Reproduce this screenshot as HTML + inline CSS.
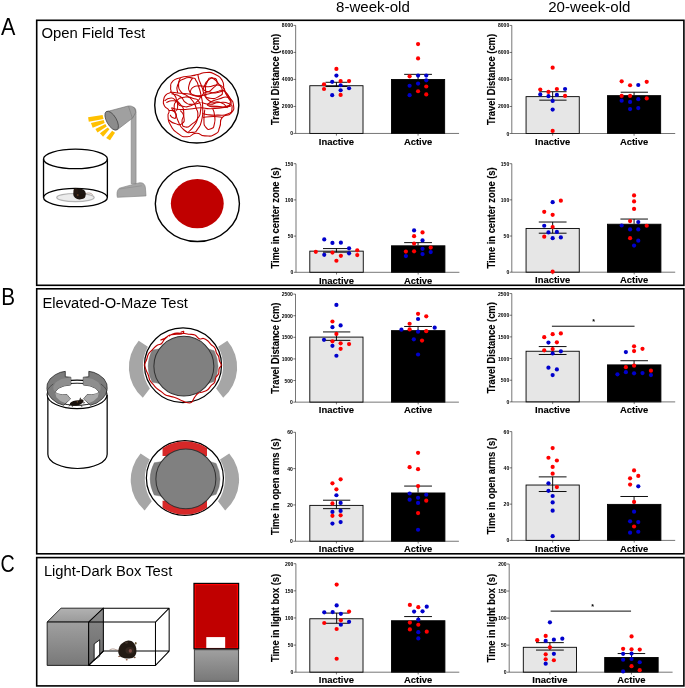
<!DOCTYPE html>
<html lang="en">
<head>
<meta charset="utf-8">
<title>Figure</title>
<style>
html,body{margin:0;padding:0;background:#fff;}
body{width:685px;height:688px;overflow:hidden;}
svg{display:block;}
text{font-family:"Liberation Sans",sans-serif;fill:#000;}
.tk{font-size:5.3px;font-weight:bold;text-anchor:end;}
.xl{font-size:9.6px;stroke:#000;stroke-width:0.12px;font-weight:bold;text-anchor:middle;}
.yl{font-size:10.35px;stroke:#000;stroke-width:0.12px;font-weight:bold;text-anchor:middle;}
.st{font-size:7px;font-weight:bold;text-anchor:middle;}
.hd{font-size:14.9px;text-anchor:middle;}
.pl{font-size:23.5px;}
.pt{font-size:15.2px;}
</style>
</head>
<body>
<svg width="685" height="688" viewBox="0 0 685 688">
<rect width="685" height="688" fill="#fff"/>

<g fill="none" stroke="#000" stroke-width="1.6">
<rect x="36.7" y="20.3" width="647.2" height="265"/>
<rect x="36.7" y="288.8" width="647.2" height="265"/>
<rect x="36.7" y="557.6" width="647.2" height="128.3"/>
</g>
<text x="372.9" y="12.4" class="hd" textLength="73.8" lengthAdjust="spacingAndGlyphs">8-week-old</text>
<text x="589.3" y="12.4" class="hd" textLength="82.2" lengthAdjust="spacingAndGlyphs">20-week-old</text>
<text x="1.1" y="34.8" class="pl" textLength="14.4" lengthAdjust="spacingAndGlyphs">A</text>
<text x="1.2" y="305.3" class="pl" textLength="13.8" lengthAdjust="spacingAndGlyphs">B</text>
<text x="0.6" y="572.1" class="pl" textLength="14.2" lengthAdjust="spacingAndGlyphs">C</text>
<text x="41.4" y="38.2" class="pt" textLength="103.8" lengthAdjust="spacingAndGlyphs">Open Field Test</text>
<text x="42.4" y="307.9" class="pt" textLength="145.5" lengthAdjust="spacingAndGlyphs">Elevated-O-Maze Test</text>
<text x="43.9" y="575.6" class="pt" textLength="128.4" lengthAdjust="spacingAndGlyphs">Light-Dark Box Test</text>
<g id="arenaA" transform="translate(36 80) scale(0.20338)">
<ellipse cx="194" cy="578" rx="92" ry="20" fill="#ececec" stroke="#b3b3b3" stroke-width="6"/>
<ellipse cx="194" cy="578" rx="157" ry="45" fill="none" stroke="#000" stroke-width="6.5"/>
<ellipse cx="194" cy="388" rx="157" ry="48" fill="none" stroke="#000" stroke-width="6.5"/>
<path d="M37 388V578M351 388V578" stroke="#000" stroke-width="6.5" fill="none"/>
<g id="mouseA">
<path d="M240 560C260 552 272 556 280 566" fill="none" stroke="#8a6a5a" stroke-width="3"/>
<ellipse cx="214" cy="560" rx="31" ry="27" fill="#1e1611"/>
<ellipse cx="196" cy="546" rx="12" ry="14" fill="#261a13"/>
<ellipse cx="228" cy="572" rx="14" ry="12" fill="#1d130d"/>
<circle cx="205" cy="566" r="5" fill="#5b3a25"/>
</g>
<g fill="#ffc000" transform="scale(4.917) translate(-36 -80) translate(84 100) scale(0.09635)">
<polygon points="42,180 193,155 203,197 50,226"/>
<polygon points="72,240 205,208 214,238 90,288"/>
<polygon points="118,300 222,250 236,276 140,338"/>
<polygon points="165,345 246,286 264,304 198,382"/>
<polygon points="230,395 292,318 322,340 270,418"/>
</g>
<path d="M468 510V170C468 140 470 132 480 134C492 138 492 150 492 175V510Z" fill="#a6a6a6" stroke="#7f7f7f" stroke-width="3"/>
<path d="M400 577C396 560 398 540 410 532L505 506C525 502 536 512 538 530L541 570Z" fill="#a6a6a6" stroke="#7f7f7f" stroke-width="3"/>
<path d="M410 536L520 520" stroke="#8c8c8c" stroke-width="3" fill="none"/>
<path d="M346 156L452 128C476 124 490 140 490 160L476 186L398 246Z" fill="#a0a0a0" stroke="#6e6e6e" stroke-width="3"/>
<path d="M455 130C462 150 468 170 474 188" stroke="#7a7a7a" stroke-width="3" fill="none"/>
<ellipse cx="372" cy="200" rx="52" ry="24" transform="rotate(60 372 200)" fill="#8c8c8c" stroke="#404040" stroke-width="3.5"/>
</g>
<g id="trackA" transform="translate(140 50) scale(0.17518)">
<ellipse cx="324" cy="315" rx="240" ry="216" fill="#fff" stroke="#000" stroke-width="8"/>
<path d="M175 215C178.3 195 166.7 199 185 180C203.3 161 195 168.7 230 158C265 147.3 256.7 154 290 148C323.3 142 300 146.7 330 140C360 133.3 346.7 128 380 128C413.3 128 400 124.3 430 140C460 155.7 452.7 145 470 175C487.3 205 468.7 198.3 482 230C495.3 261.7 493 243.3 510 270C527 296.7 529.7 280 533 310C536.3 340 541 335 520 360C499 385 491.7 358.3 470 385C448.3 411.7 468.3 408.3 455 440C441.7 471.7 458.3 463.3 430 480C401.7 496.7 406.7 491.7 370 490C333.3 488.3 353.3 473.3 320 475C286.7 476.7 305 495 270 495C235 495 246.7 496.7 215 475C183.3 453.3 193.3 461.7 175 430C156.7 398.3 163.3 408.3 160 380C156.7 351.7 171.7 365 165 345C158.3 325 150 340 140 320C130 300 131.7 306.7 135 285C138.3 263.3 136.7 270 150 255C163.3 240 166.7 253.3 175 240C183.3 226.7 171.7 235 175 215Z" fill="none" stroke="#c00000" stroke-width="6.2" stroke-linejoin="round"/>
<path d="M175 240C188.3 241.7 183.3 241.7 215 245C246.7 248.3 231.7 244.3 270 250C308.3 255.7 288.3 262 330 262C371.7 262 358.3 258 395 250C431.7 242 413.3 244 440 238C466.7 232 453.3 224 475 232C496.7 240 491.7 239.3 505 262C518.3 284.7 520 279 515 300C510 321 515 317.7 490 325C465 332.3 471.7 323.7 440 322C408.3 320.3 410 320.7 395 320" fill="none" stroke="#c00000" stroke-width="6.2" stroke-linejoin="round"/>
<path d="M215 245C215 230 203.3 226.7 215 200C226.7 173.3 221.7 178.3 250 165C278.3 151.7 276.7 156.7 300 160C323.3 163.3 308.3 158.3 320 175C331.7 191.7 325 180 335 210C345 240 342.3 225 350 265C357.7 305 357.3 285 358 330C358.7 375 361.3 360 352 400C342.7 440 347.3 426.7 330 450C312.7 473.3 326.7 468.3 300 470C273.3 471.7 278.3 478.3 250 455C221.7 431.7 231.7 433.3 215 400C198.3 366.7 216.7 373.3 200 355C183.3 336.7 176.7 348.3 165 345" fill="none" stroke="#c00000" stroke-width="6.2" stroke-linejoin="round"/>
<path d="M300 160C293.3 173.3 285 173.3 280 200C275 226.7 271.7 219.3 285 240C298.3 260.7 298.3 253.7 320 262C341.7 270.3 340 264 350 265" fill="none" stroke="#c00000" stroke-width="6.2" stroke-linejoin="round"/>
<path d="M400 165C383.3 176.7 381.7 171.7 370 200C358.3 228.3 355 225 365 250C375 275 371.7 270 400 275C428.3 280 426.7 278.3 450 265C473.3 251.7 470 258.3 470 235C470 211.7 466.7 218.3 450 195C433.3 171.7 436.7 175 420 165C403.3 155 416.7 153.3 400 165Z" fill="none" stroke="#c00000" stroke-width="6.2" stroke-linejoin="round"/>
<path d="M395 320C411.7 328.3 415 325 450 325C485 325 476.7 328.3 500 320C523.3 311.7 520 316.7 520 300C520 283.3 523.3 276.7 500 270C476.7 263.3 483.3 270 450 280C416.7 290 418.3 286.7 400 300C381.7 313.3 378.3 311.7 395 320Z" fill="none" stroke="#c00000" stroke-width="6.2" stroke-linejoin="round"/>
<path d="M360 385C380 383.3 383.3 380 420 380C456.7 380 453.3 383.3 470 385" fill="none" stroke="#c00000" stroke-width="6.2" stroke-linejoin="round"/>
<path d="M370 340C368.3 360 363.3 366.7 365 400C366.7 433.3 361.7 423.3 375 440C388.3 456.7 388.3 456.7 405 450C421.7 443.3 418.3 446.7 425 420C431.7 393.3 428.3 398.3 425 370C421.7 341.7 418.3 346.7 415 335" fill="none" stroke="#c00000" stroke-width="6.2" stroke-linejoin="round"/>
<path d="M180 330C196.7 333.3 190 338.3 230 340C270 341.7 260 338.3 300 335C340 331.7 316.7 330 350 330C383.3 330 360 335 400 335C440 335 430 335 470 330C510 325 503.3 323.3 520 320" fill="none" stroke="#c00000" stroke-width="6.2" stroke-linejoin="round"/>
<path d="M150 300C163.3 296.7 163.3 286.7 190 290C216.7 293.3 210 286.7 230 310C250 333.3 246.7 326.7 250 360C253.3 393.3 236.7 383.3 240 410C243.3 436.7 240 436.7 260 440C280 443.3 276.7 436.7 300 420C323.3 403.3 315 413.3 330 390C345 366.7 341.7 380 345 350C348.3 320 355 325 340 300C325 275 330 285 300 275C270 265 280 265 250 270C220 275 228.3 270 210 290C191.7 310 196.7 300 195 330C193.3 360 208.3 361.7 205 380C201.7 398.3 196 388.3 185 385C174 381.7 176.3 375 172 370" fill="none" stroke="#c00000" stroke-width="6.2" stroke-linejoin="round"/>
<path d="M330 140C335 156.7 330 158.3 345 190C360 221.7 350 226.7 375 235C400 243.3 398.3 233.3 420 215C441.7 196.7 443.3 198.3 440 180C436.7 161.7 428.3 160 410 160C391.7 160 396.7 155 385 180C373.3 205 371.7 198.3 375 235C378.3 271.7 366.7 268.3 395 290C423.3 311.7 425 286.7 460 300C495 313.3 486.7 320 500 330" fill="none" stroke="#c00000" stroke-width="6.2" stroke-linejoin="round"/>
<path d="M180 250C196.7 255 203.3 248.3 230 265C256.7 281.7 236.7 285 260 300C283.3 315 271.7 310 300 310C328.3 310 330 303.3 345 300" fill="none" stroke="#c00000" stroke-width="6.2" stroke-linejoin="round"/>
<path d="M175 240C183.3 247.3 186.7 242 200 262C213.3 282 201.7 280.7 215 300C228.3 319.3 215 314 240 320C265 326 260 328 290 318C320 308 310 307.7 330 290C350 272.3 333.3 281.7 350 265C366.7 248.3 353.3 246.7 380 240C406.7 233.3 396.7 248.3 430 245C463.3 241.7 463.3 235 480 230" fill="none" stroke="#c00000" stroke-width="6.2" stroke-linejoin="round"/>
<path d="M140 290C150 285 150 276.7 170 275C190 273.3 185 270 200 285C215 300 215 298.3 215 320C215 341.7 211.7 346.7 200 350C188.3 353.3 186.7 336.7 180 330" fill="none" stroke="#c00000" stroke-width="6.2" stroke-linejoin="round"/>
<path d="M230 160C226.7 173.3 218.3 173.3 220 200C221.7 226.7 218.3 219.3 235 240C251.7 260.7 248.3 245.3 270 262C291.7 278.7 283.3 267.3 300 290C316.7 312.7 310 300 320 330C330 360 333.3 346.7 330 380C326.7 413.3 328.3 400 310 430C291.7 460 286.7 456.7 275 470" fill="none" stroke="#c00000" stroke-width="6.2" stroke-linejoin="round"/>
<path d="M285 250C290 238.3 281.7 230 300 215C318.3 200 310 206.7 340 205C370 203.3 356.7 211.7 390 210C423.3 208.3 411.7 198.3 440 200C468.3 201.7 458.3 198.3 475 215C491.7 231.7 476.7 225 490 250C503.3 275 506.7 276.7 515 290" fill="none" stroke="#c00000" stroke-width="6.2" stroke-linejoin="round"/>
<path d="M352 300C368 303.3 367.3 310 400 310C432.7 310 415 301.7 450 300C485 298.3 480 293.3 505 305C530 316.7 526.7 315 525 335C523.3 355 528.3 352.7 500 365C471.7 377.3 480 371 440 372C400 373 408.3 372 380 368C351.7 364 363.3 362.7 355 360" fill="none" stroke="#c00000" stroke-width="6.2" stroke-linejoin="round"/>
<path d="M165 400C176.7 406.7 175 413.3 200 420C225 426.7 223.3 433.3 240 420C256.7 406.7 253.3 405 250 380C246.7 355 236.7 356.7 230 345" fill="none" stroke="#c00000" stroke-width="6.2" stroke-linejoin="round"/>
</g>
<g id="zoneA" transform="translate(140 150) scale(0.17518)">
<ellipse cx="327.5" cy="306.5" rx="240" ry="216" fill="#fff" stroke="#000" stroke-width="8"/>
<ellipse cx="327" cy="306" rx="151" ry="141" fill="#c00000"/>
</g>
<g id="eomTrack">
<g transform="translate(120 310) scale(0.18978)">
<path d="M565.5 161.8A212.9 212.9 0 0 1 543.9 462.1L506.5 413.6A209.7 209.7 0 0 0 517 193.9Z" fill="#a6a6a6"/>
<path d="M98.5 161.8A212.9 212.9 0 0 0 120.1 462.1L157.5 413.6A209.7 209.7 0 0 1 147 193.9Z" fill="#a6a6a6"/>
<ellipse cx="332" cy="291" rx="203" ry="197" fill="#fff" stroke="#000" stroke-width="6.5"/>
<path d="M210.3 204.3L169.9 211.1A187 187 0 0 0 169.9 380.9L210.3 387.7Z" fill="#7f7f7f" stroke="#6a6a6a" stroke-width="2"/>
<path d="M462.7 204.3L496 214.7A179 179 0 0 1 496 377.3L462.7 387.7Z" fill="#7f7f7f" stroke="#6a6a6a" stroke-width="2"/>
<ellipse cx="336.5" cy="296" rx="158" ry="157.5" fill="#808080" stroke="#333" stroke-width="5.5"/>
<path d="M320 118C323 116.8 333 110.8 335 112C337 113.2 337 120.8 330 124C323 127.2 313.6 126.4 300 128C286.4 129.6 274 128 262 132C250 136 249.4 142.8 240 148C230.6 153.2 216 157.6 215 158C214 158.4 228 153.6 235 150C242 146.4 250.6 138.4 250 140C249.4 141.6 238.4 150.4 232 158C225.6 165.6 225.2 172.4 218 178C210.8 183.6 205.6 179.6 196 186C186.4 192.4 179.2 200.8 170 210C160.8 219.2 156 221.6 150 232C144 242.4 144 250.8 140 262C136 273.2 130.4 276.8 130 288C129.6 299.2 134 306.6 138 318C142 329.4 146 334.2 150 345C154 355.8 153 362.6 158 372C163 381.4 168.2 384 175 392C181.8 400 184 404.8 192 412C200 419.2 205.8 421.2 215 428C224.2 434.8 228 440.6 238 446C248 451.4 254.2 451.8 265 455C275.8 458.2 281.4 458.2 292 462C302.6 465.8 307.4 469.2 318 474C328.6 478.8 333.6 483.2 345 486C356.4 488.8 365.6 492.8 375 488C384.4 483.2 385 471.6 392 462C399 452.4 401.2 446 410 440C418.8 434 425.6 436 436 432C446.4 428 453.2 426.8 462 420C470.8 413.2 472.8 405.6 480 398C487.2 390.4 493 390.6 498 382C503 373.4 500.6 364.4 505 355C509.4 345.6 516.6 344 520 335C523.4 326 519.2 319 522 310C524.8 301 533.6 298.4 534 290C534.4 281.6 526.8 277 524 268C521.2 259 523.2 253.6 520 245C516.8 236.4 512 234 508 225C504 216 505.6 208.6 500 200C494.4 191.4 487.6 189.6 480 182C472.4 174.4 470 168.4 462 162C454 155.6 448.8 152 440 150C431.2 148 427 155.6 418 152C409 148.4 405.6 136.8 395 132C384.4 127.2 376 129.6 365 128C354 126.4 353 125.2 340 124C327 122.8 313 121.2 300 122C287 122.8 283.4 124.8 275 128C266.6 131.2 261.4 136 258 138" fill="none" stroke="#c00000" stroke-width="6" stroke-linejoin="round"/>
</g>
</g>
<g id="eomZones">
<g transform="translate(120 425) scale(0.18978)">
<path d="M575.5 149.8A212.9 212.9 0 0 1 553.9 450.1L516.5 401.6A209.7 209.7 0 0 0 527 181.9Z" fill="#a6a6a6"/>
<path d="M108.5 149.8A212.9 212.9 0 0 0 130.1 450.1L167.5 401.6A209.7 209.7 0 0 1 157 181.9Z" fill="#a6a6a6"/>
<ellipse cx="342" cy="279" rx="203" ry="197" fill="#fff" stroke="#000" stroke-width="6.5"/>
<clipPath id="clipZ"><rect x="223" y="69" width="236" height="94"/><rect x="223" y="399" width="236" height="94"/></clipPath>
<ellipse cx="342" cy="279" rx="199.5" ry="193.5" fill="#d62828" clip-path="url(#clipZ)"/>
<path d="M220.8 192.3L180.4 199.1A187 187 0 0 0 180.4 368.9L220.8 375.7Z" fill="#7f7f7f" stroke="#6a6a6a" stroke-width="2"/>
<path d="M473.2 192.3L506.5 202.7A179 179 0 0 1 506.5 365.3L473.2 375.7Z" fill="#7f7f7f" stroke="#6a6a6a" stroke-width="2"/>
<ellipse cx="347" cy="284" rx="158" ry="157.5" fill="#808080" stroke="#333" stroke-width="5.5"/>
</g>
</g>
<g id="mazeB">
<g transform="translate(36 360) scale(0.17443)">
<path d="M68 200V540A170 82 0 0 0 408 540V200" fill="#fff" stroke="#000" stroke-width="7"/>
</g>
<g transform="translate(42 365) scale(0.10219)">
<ellipse cx="343" cy="287.5" rx="293" ry="139.5" fill="#fff" stroke="#000" stroke-width="11"/>
<ellipse cx="343" cy="286.5" rx="252" ry="108.5" fill="#fff" stroke="#000" stroke-width="9"/>
<polygon points="48,232 52,185 80,135 130,95 180,72 228,62 228,115 282,120 282,195 215,205 160,228 128,265 150,282 200,292 245,290 278,332 212,394 150,372 95,330 60,285" fill="#7c7c7c" stroke="#1a1a1a" stroke-width="7" stroke-linejoin="round"/>
<polygon points="110,210 135,168 190,138 282,120 282,195 215,205 160,228 128,265 112,240" fill="#8e8e8e"/>
<polygon points="128,265 150,282 200,292 245,290 278,332 230,374 180,352 140,315" fill="#a9a9a9"/>
<polyline points="50,250 75,215 110,185" fill="none" stroke="#262626" stroke-width="5"/>
<polygon points="638,232 634,185 606,135 556,95 506,72 458,62 458,115 404,120 404,195 471,205 526,228 558,265 536,282 486,292 441,290 408,332 474,394 536,372 591,330 626,285" fill="#7c7c7c" stroke="#1a1a1a" stroke-width="7" stroke-linejoin="round"/>
<polygon points="576,210 551,168 496,138 404,120 404,195 471,205 526,228 558,265 574,240" fill="#8e8e8e"/>
<polygon points="558,265 536,282 486,292 441,290 408,332 456,374 506,352 546,315" fill="#a9a9a9"/>
<polyline points="636,250 611,215 576,185" fill="none" stroke="#262626" stroke-width="5"/>
<ellipse cx="335" cy="372" rx="64" ry="25" transform="rotate(-10 335 372)" fill="#17110d"/>
<ellipse cx="384" cy="352" rx="24" ry="18" fill="#1f1610"/>
<path d="M366 340L374 316L384 338Z" fill="#17110d"/>
<path d="M280 388L262 404M300 394L296 410M380 392L392 410M400 372L420 368" stroke="#17110d" stroke-width="7" fill="none"/>
<circle cx="345" cy="360" r="6" fill="#a06a3c"/>
</g>
</g>
<defs><linearGradient id="gd" x1="0" y1="0" x2="0" y2="1"><stop offset="0" stop-color="#a0a0a0"/><stop offset="1" stop-color="#787878"/></linearGradient>
<linearGradient id="gt" x1="0" y1="0" x2="0" y2="1"><stop offset="0" stop-color="#b2b2b2"/><stop offset="1" stop-color="#9a9a9a"/></linearGradient>
<linearGradient id="gs" x1="0" y1="0" x2="0" y2="1"><stop offset="0" stop-color="#8c8c8c"/><stop offset="1" stop-color="#6a6a6a"/></linearGradient></defs>
<g id="ldbox" transform="translate(40 600) scale(0.20437)" stroke-linejoin="round">
<polygon points="35,108 103,40 310,40 238,108" fill="url(#gt)" stroke="#000" stroke-width="4"/>
<rect x="35" y="108" width="203" height="212" fill="url(#gd)" stroke="#000" stroke-width="4"/>
<polygon points="238,108 310,40 310,250 238,320" fill="url(#gs)" stroke="#000" stroke-width="5"/>
<polygon points="265,215 292,195 292,275 265,295" fill="#fff" stroke="#000" stroke-width="4"/>
<path d="M310 40H632V250H310M238 108H565V320H238M565 108L632 40M565 320L632 250M238 320L310 250" fill="none" stroke="#000" stroke-width="5"/>
</g>
<g id="mouseC" transform="translate(105 635) scale(0.058394)">
<path d="M72 262C100 235 150 232 185 250C200 258 215 262 232 262" fill="none" stroke="#8a6858" stroke-width="11"/>
<ellipse cx="245" cy="366" rx="22" ry="12" fill="#8a5a42"/>
<ellipse cx="372" cy="424" rx="18" ry="14" fill="#8a5a42"/>
<ellipse cx="508" cy="386" rx="18" ry="12" fill="#7a5a48"/>
<path d="M228 300C222 200 290 110 400 95C470 92 520 150 535 230C548 320 520 385 440 398C360 410 240 400 228 300Z" fill="#221a13"/>
<ellipse cx="368" cy="130" rx="26" ry="20" fill="#40342a"/>
<ellipse cx="526" cy="142" rx="15" ry="24" fill="#6e5c3c"/>
<ellipse cx="425" cy="265" rx="75" ry="60" fill="#33261e"/>
<ellipse cx="434" cy="270" rx="28" ry="32" fill="#7c4c46"/>
</g>
<g id="ldtop" transform="translate(180 575) scale(0.16427)">
<rect x="87" y="455" width="270" height="192" fill="url(#gd)" stroke="#262626" stroke-width="5"/>
<rect x="85" y="51" width="272" height="398" fill="#ff0000" stroke="#000" stroke-width="7"/>
<rect x="96" y="62" width="250" height="380" fill="#c00000"/>
<rect x="160" y="378" width="115" height="66" fill="#fff"/>
</g>

<g id="c11">
<rect x="309.81" y="85.72" width="53.2" height="47.73" fill="#e6e6e6" stroke="#000" stroke-width="0.9"/>
<rect x="391.46" y="79.52" width="53.2" height="53.93" fill="#000000" stroke="#000" stroke-width="0.9"/>
<path d="M295.66 25.4V133.45H459.06" fill="none" stroke="#1a1a1a" stroke-width="0.6"/>
<path d="M293.46 133.45H295.66" stroke="#1a1a1a" stroke-width="0.6"/>
<text transform="translate(293.06 135.45) scale(0.95 1)" class="tk">0</text>
<path d="M293.46 106.44H295.66" stroke="#1a1a1a" stroke-width="0.6"/>
<text transform="translate(293.06 108.44) scale(0.95 1)" class="tk">2000</text>
<path d="M293.46 79.42H295.66" stroke="#1a1a1a" stroke-width="0.6"/>
<text transform="translate(293.06 81.42) scale(0.95 1)" class="tk">4000</text>
<path d="M293.46 52.41H295.66" stroke="#1a1a1a" stroke-width="0.6"/>
<text transform="translate(293.06 54.41) scale(0.95 1)" class="tk">6000</text>
<path d="M293.46 25.4H295.66" stroke="#1a1a1a" stroke-width="0.6"/>
<text transform="translate(293.06 27.4) scale(0.95 1)" class="tk">8000</text>
<path d="M336.41 133.45V135.65" stroke="#1a1a1a" stroke-width="0.6"/>
<text transform="translate(336.41 144.65) scale(0.985 1)" class="xl">Inactive</text>
<path d="M418.06 133.45V135.65" stroke="#1a1a1a" stroke-width="0.6"/>
<text transform="translate(418.06 144.65) scale(0.985 1)" class="xl">Active</text>
<text transform="translate(279.2 79.42) rotate(-90) scale(0.905 1)" class="yl">Travel Distance (cm)</text>
<path d="M325.49 82.29H347.58M336.41 82.29V86.51M325.49 86.51H347.58" stroke="#000" stroke-width="0.95" fill="none"/>
<path d="M404.16 74.35H431.96M418.06 74.35V79.07" stroke="#000" stroke-width="0.95" fill="none"/>
<circle cx="336.41" cy="68.89" r="2.1" fill="#ff0000"/>
<circle cx="336.41" cy="75.59" r="2.1" fill="#0000cc"/>
<circle cx="332.19" cy="81.8" r="2.1" fill="#0000cc"/>
<circle cx="340.63" cy="81.05" r="2.1" fill="#ff0000"/>
<circle cx="349.07" cy="81.05" r="2.1" fill="#ff0000"/>
<circle cx="324" cy="84.28" r="2.1" fill="#ff0000"/>
<circle cx="340.63" cy="85.27" r="2.1" fill="#0000cc"/>
<circle cx="349.07" cy="88.25" r="2.1" fill="#0000cc"/>
<circle cx="324" cy="88.99" r="2.1" fill="#ff0000"/>
<circle cx="340.63" cy="90.23" r="2.1" fill="#0000cc"/>
<circle cx="332.19" cy="95.2" r="2.1" fill="#0000cc"/>
<circle cx="340.63" cy="94.95" r="2.1" fill="#ff0000"/>
<circle cx="418.06" cy="44.07" r="2.1" fill="#ff0000"/>
<circle cx="418.06" cy="58.47" r="2.1" fill="#ff0000"/>
<circle cx="409.62" cy="76.34" r="2.1" fill="#ff0000"/>
<circle cx="418.06" cy="75.59" r="2.1" fill="#0000cc"/>
<circle cx="426.25" cy="75.59" r="2.1" fill="#0000cc"/>
<circle cx="426.25" cy="80.31" r="2.1" fill="#0000cc"/>
<circle cx="418.06" cy="83.53" r="2.1" fill="#0000cc"/>
<circle cx="409.62" cy="85.77" r="2.1" fill="#0000cc"/>
<circle cx="426.25" cy="86.51" r="2.1" fill="#ff0000"/>
<circle cx="418.06" cy="91.23" r="2.1" fill="#ff0000"/>
<circle cx="409.62" cy="95.2" r="2.1" fill="#0000cc"/>
<circle cx="426.25" cy="94.45" r="2.1" fill="#ff0000"/>
</g>
<g id="c12">
<rect x="526.06" y="96.64" width="53.2" height="36.86" fill="#e6e6e6" stroke="#000" stroke-width="0.9"/>
<rect x="607.46" y="95.65" width="53.2" height="37.85" fill="#000000" stroke="#000" stroke-width="0.9"/>
<path d="M511.8 25.45V133.5H675.2" fill="none" stroke="#1a1a1a" stroke-width="0.6"/>
<path d="M509.6 133.5H511.8" stroke="#1a1a1a" stroke-width="0.6"/>
<text transform="translate(509.2 135.5) scale(0.95 1)" class="tk">0</text>
<path d="M509.6 106.49H511.8" stroke="#1a1a1a" stroke-width="0.6"/>
<text transform="translate(509.2 108.49) scale(0.95 1)" class="tk">2000</text>
<path d="M509.6 79.47H511.8" stroke="#1a1a1a" stroke-width="0.6"/>
<text transform="translate(509.2 81.47) scale(0.95 1)" class="tk">4000</text>
<path d="M509.6 52.46H511.8" stroke="#1a1a1a" stroke-width="0.6"/>
<text transform="translate(509.2 54.46) scale(0.95 1)" class="tk">6000</text>
<path d="M509.6 25.45H511.8" stroke="#1a1a1a" stroke-width="0.6"/>
<text transform="translate(509.2 27.45) scale(0.95 1)" class="tk">8000</text>
<path d="M552.66 133.5V135.7" stroke="#1a1a1a" stroke-width="0.6"/>
<text transform="translate(552.66 144.7) scale(0.985 1)" class="xl">Inactive</text>
<path d="M634.07 133.5V135.7" stroke="#1a1a1a" stroke-width="0.6"/>
<text transform="translate(634.07 144.7) scale(0.985 1)" class="xl">Active</text>
<text transform="translate(494.6 79.47) rotate(-90) scale(0.905 1)" class="yl">Travel Distance (cm)</text>
<path d="M539.26 91.72H566.56M552.66 91.72V100.16M539.26 100.16H566.56" stroke="#000" stroke-width="0.95" fill="none"/>
<path d="M620.66 92.22H647.96M634.07 92.22V95.2" stroke="#000" stroke-width="0.95" fill="none"/>
<circle cx="552.66" cy="67.65" r="2.1" fill="#ff0000"/>
<circle cx="540.26" cy="89.49" r="2.1" fill="#ff0000"/>
<circle cx="548.45" cy="91.97" r="2.1" fill="#ff0000"/>
<circle cx="556.88" cy="88.99" r="2.1" fill="#ff0000"/>
<circle cx="565.07" cy="88.99" r="2.1" fill="#0000cc"/>
<circle cx="540.26" cy="94.45" r="2.1" fill="#0000cc"/>
<circle cx="548.45" cy="96.19" r="2.1" fill="#0000cc"/>
<circle cx="556.88" cy="94.95" r="2.1" fill="#0000cc"/>
<circle cx="565.07" cy="95.94" r="2.1" fill="#ff0000"/>
<circle cx="552.66" cy="100.91" r="2.1" fill="#0000cc"/>
<circle cx="552.66" cy="109.59" r="2.1" fill="#0000cc"/>
<circle cx="552.66" cy="130.93" r="2.1" fill="#ff0000"/>
<circle cx="621.66" cy="81.3" r="2.1" fill="#ff0000"/>
<circle cx="646.72" cy="81.8" r="2.1" fill="#ff0000"/>
<circle cx="630.09" cy="85.27" r="2.1" fill="#ff0000"/>
<circle cx="638.28" cy="85.02" r="2.1" fill="#0000cc"/>
<circle cx="621.66" cy="95.94" r="2.1" fill="#ff0000"/>
<circle cx="630.09" cy="95.94" r="2.1" fill="#ff0000"/>
<circle cx="646.72" cy="98.42" r="2.1" fill="#ff0000"/>
<circle cx="621.66" cy="100.66" r="2.1" fill="#0000cc"/>
<circle cx="638.28" cy="99.17" r="2.1" fill="#0000cc"/>
<circle cx="630.09" cy="101.9" r="2.1" fill="#0000cc"/>
<circle cx="630.09" cy="109.09" r="2.1" fill="#0000cc"/>
<circle cx="638.28" cy="108.1" r="2.1" fill="#0000cc"/>
</g>
<g id="c21">
<rect x="309.81" y="251.14" width="53.45" height="21.16" fill="#e6e6e6" stroke="#000" stroke-width="0.9"/>
<rect x="391.46" y="245.81" width="53.45" height="26.49" fill="#000000" stroke="#000" stroke-width="0.9"/>
<path d="M296 163.7V272.3H459.4" fill="none" stroke="#1a1a1a" stroke-width="0.6"/>
<path d="M293.8 272.3H296" stroke="#1a1a1a" stroke-width="0.6"/>
<text transform="translate(293.4 274.3) scale(0.95 1)" class="tk">0</text>
<path d="M293.8 236.1H296" stroke="#1a1a1a" stroke-width="0.6"/>
<text transform="translate(293.4 238.1) scale(0.95 1)" class="tk">50</text>
<path d="M293.8 199.9H296" stroke="#1a1a1a" stroke-width="0.6"/>
<text transform="translate(293.4 201.9) scale(0.95 1)" class="tk">100</text>
<path d="M293.8 163.7H296" stroke="#1a1a1a" stroke-width="0.6"/>
<text transform="translate(293.4 165.7) scale(0.95 1)" class="tk">150</text>
<path d="M336.53 272.3V274.5" stroke="#1a1a1a" stroke-width="0.6"/>
<text transform="translate(336.53 283.5) scale(0.985 1)" class="xl">Inactive</text>
<path d="M418.18 272.3V274.5" stroke="#1a1a1a" stroke-width="0.6"/>
<text transform="translate(418.18 283.5) scale(0.985 1)" class="xl">Active</text>
<text transform="translate(279.2 218) rotate(-90) scale(0.905 1)" class="yl">Time in center zone (s)</text>
<path d="M323.01 248.58H350.31M336.41 248.58V252.18M323.01 252.18H350.31" stroke="#000" stroke-width="0.95" fill="none"/>
<path d="M404.16 242.63H431.96M418.06 242.63V245.36" stroke="#000" stroke-width="0.95" fill="none"/>
<circle cx="324.25" cy="239.4" r="2.1" fill="#0000cc"/>
<circle cx="332.44" cy="242.88" r="2.1" fill="#0000cc"/>
<circle cx="340.88" cy="242.63" r="2.1" fill="#0000cc"/>
<circle cx="349.07" cy="248.34" r="2.1" fill="#0000cc"/>
<circle cx="357.26" cy="250.32" r="2.1" fill="#ff0000"/>
<circle cx="315.81" cy="251.81" r="2.1" fill="#ff0000"/>
<circle cx="332.44" cy="252.55" r="2.1" fill="#ff0000"/>
<circle cx="349.07" cy="253.3" r="2.1" fill="#0000cc"/>
<circle cx="324.25" cy="254.79" r="2.1" fill="#0000cc"/>
<circle cx="340.88" cy="255.78" r="2.1" fill="#ff0000"/>
<circle cx="357.26" cy="255.04" r="2.1" fill="#ff0000"/>
<circle cx="336.41" cy="260.74" r="2.1" fill="#ff0000"/>
<circle cx="414.09" cy="230.47" r="2.1" fill="#0000cc"/>
<circle cx="422.53" cy="232.45" r="2.1" fill="#ff0000"/>
<circle cx="414.09" cy="236.18" r="2.1" fill="#ff0000"/>
<circle cx="422.53" cy="240.39" r="2.1" fill="#0000cc"/>
<circle cx="414.09" cy="243.62" r="2.1" fill="#ff0000"/>
<circle cx="430.72" cy="247.59" r="2.1" fill="#ff0000"/>
<circle cx="422.53" cy="248.83" r="2.1" fill="#0000cc"/>
<circle cx="405.9" cy="251.56" r="2.1" fill="#ff0000"/>
<circle cx="414.09" cy="251.31" r="2.1" fill="#ff0000"/>
<circle cx="430.72" cy="252.06" r="2.1" fill="#0000cc"/>
<circle cx="422.53" cy="254.04" r="2.1" fill="#0000cc"/>
<circle cx="405.9" cy="256.03" r="2.1" fill="#0000cc"/>
</g>
<g id="c22">
<rect x="526.06" y="228.44" width="53.2" height="43.76" fill="#e6e6e6" stroke="#000" stroke-width="0.9"/>
<rect x="607.46" y="224.22" width="53.45" height="47.98" fill="#000000" stroke="#000" stroke-width="0.9"/>
<path d="M511.8 163.7V272.2H675.2" fill="none" stroke="#1a1a1a" stroke-width="0.6"/>
<path d="M509.6 272.2H511.8" stroke="#1a1a1a" stroke-width="0.6"/>
<text transform="translate(509.2 274.2) scale(0.95 1)" class="tk">0</text>
<path d="M509.6 236.03H511.8" stroke="#1a1a1a" stroke-width="0.6"/>
<text transform="translate(509.2 238.03) scale(0.95 1)" class="tk">50</text>
<path d="M509.6 199.87H511.8" stroke="#1a1a1a" stroke-width="0.6"/>
<text transform="translate(509.2 201.87) scale(0.95 1)" class="tk">100</text>
<path d="M509.6 163.7H511.8" stroke="#1a1a1a" stroke-width="0.6"/>
<text transform="translate(509.2 165.7) scale(0.95 1)" class="tk">150</text>
<path d="M552.66 272.2V274.4" stroke="#1a1a1a" stroke-width="0.6"/>
<text transform="translate(552.66 283.4) scale(0.985 1)" class="xl">Inactive</text>
<path d="M634.19 272.2V274.4" stroke="#1a1a1a" stroke-width="0.6"/>
<text transform="translate(634.19 283.4) scale(0.985 1)" class="xl">Active</text>
<text transform="translate(494.6 217.95) rotate(-90) scale(0.905 1)" class="yl">Time in center zone (s)</text>
<path d="M538.77 222.03H566.56M552.66 222.03V233.2M538.77 233.2H566.56" stroke="#000" stroke-width="0.95" fill="none"/>
<path d="M620.42 219.05H647.96M634.07 219.05V223.77" stroke="#000" stroke-width="0.95" fill="none"/>
<circle cx="552.66" cy="202.18" r="2.1" fill="#0000cc"/>
<circle cx="560.85" cy="200.69" r="2.1" fill="#ff0000"/>
<circle cx="544.23" cy="211.85" r="2.1" fill="#ff0000"/>
<circle cx="552.66" cy="214.83" r="2.1" fill="#ff0000"/>
<circle cx="544.23" cy="225.75" r="2.1" fill="#0000cc"/>
<circle cx="552.66" cy="226.99" r="2.1" fill="#ff0000"/>
<circle cx="548.45" cy="232.45" r="2.1" fill="#0000cc"/>
<circle cx="556.88" cy="231.96" r="2.1" fill="#0000cc"/>
<circle cx="544.23" cy="236.67" r="2.1" fill="#ff0000"/>
<circle cx="552.66" cy="238.16" r="2.1" fill="#0000cc"/>
<circle cx="560.85" cy="237.42" r="2.1" fill="#0000cc"/>
<circle cx="552.66" cy="271.66" r="2.1" fill="#ff0000"/>
<circle cx="634.07" cy="195.47" r="2.1" fill="#ff0000"/>
<circle cx="634.07" cy="201.43" r="2.1" fill="#ff0000"/>
<circle cx="634.07" cy="208.88" r="2.1" fill="#ff0000"/>
<circle cx="630.09" cy="221.04" r="2.1" fill="#ff0000"/>
<circle cx="638.28" cy="222.03" r="2.1" fill="#0000cc"/>
<circle cx="621.66" cy="225.5" r="2.1" fill="#0000cc"/>
<circle cx="646.72" cy="225.75" r="2.1" fill="#ff0000"/>
<circle cx="630.09" cy="229.47" r="2.1" fill="#0000cc"/>
<circle cx="638.28" cy="229.47" r="2.1" fill="#0000cc"/>
<circle cx="630.09" cy="238.16" r="2.1" fill="#ff0000"/>
<circle cx="638.28" cy="240.64" r="2.1" fill="#0000cc"/>
<circle cx="634.07" cy="245.61" r="2.1" fill="#0000cc"/>
</g>
<g id="c31">
<rect x="309.81" y="337.09" width="53.2" height="65.06" fill="#e6e6e6" stroke="#000" stroke-width="0.9"/>
<rect x="391.46" y="330.64" width="53.45" height="71.51" fill="#000000" stroke="#000" stroke-width="0.9"/>
<path d="M295.5 294.1V402.15H458.9" fill="none" stroke="#1a1a1a" stroke-width="0.6"/>
<path d="M293.3 402.15H295.5" stroke="#1a1a1a" stroke-width="0.6"/>
<text transform="translate(292.9 404.15) scale(0.95 1)" class="tk">0</text>
<path d="M293.3 380.54H295.5" stroke="#1a1a1a" stroke-width="0.6"/>
<text transform="translate(292.9 382.54) scale(0.95 1)" class="tk">500</text>
<path d="M293.3 358.93H295.5" stroke="#1a1a1a" stroke-width="0.6"/>
<text transform="translate(292.9 360.93) scale(0.95 1)" class="tk">1000</text>
<path d="M293.3 337.32H295.5" stroke="#1a1a1a" stroke-width="0.6"/>
<text transform="translate(292.9 339.32) scale(0.95 1)" class="tk">1500</text>
<path d="M293.3 315.71H295.5" stroke="#1a1a1a" stroke-width="0.6"/>
<text transform="translate(292.9 317.71) scale(0.95 1)" class="tk">2000</text>
<path d="M293.3 294.1H295.5" stroke="#1a1a1a" stroke-width="0.6"/>
<text transform="translate(292.9 296.1) scale(0.95 1)" class="tk">2500</text>
<path d="M336.41 402.15V404.35" stroke="#1a1a1a" stroke-width="0.6"/>
<text transform="translate(336.41 413.35) scale(0.985 1)" class="xl">Inactive</text>
<path d="M418.18 402.15V404.35" stroke="#1a1a1a" stroke-width="0.6"/>
<text transform="translate(418.18 413.35) scale(0.985 1)" class="xl">Active</text>
<text transform="translate(279.2 348.12) rotate(-90) scale(0.905 1)" class="yl">Travel Distance (cm)</text>
<path d="M323.01 331.93H350.31M336.41 331.93V340.36M323.01 340.36H350.31" stroke="#000" stroke-width="0.95" fill="none"/>
<path d="M404.16 326.47H431.96M418.06 326.47V330.19" stroke="#000" stroke-width="0.95" fill="none"/>
<circle cx="336.41" cy="304.88" r="2.1" fill="#0000cc"/>
<circle cx="332.44" cy="321.5" r="2.1" fill="#ff0000"/>
<circle cx="340.63" cy="325.47" r="2.1" fill="#0000cc"/>
<circle cx="332.44" cy="327.21" r="2.1" fill="#0000cc"/>
<circle cx="336.41" cy="333.91" r="2.1" fill="#ff0000"/>
<circle cx="324" cy="339.87" r="2.1" fill="#0000cc"/>
<circle cx="332.44" cy="341.36" r="2.1" fill="#ff0000"/>
<circle cx="340.63" cy="343.34" r="2.1" fill="#ff0000"/>
<circle cx="349.07" cy="344.09" r="2.1" fill="#ff0000"/>
<circle cx="332.44" cy="345.82" r="2.1" fill="#0000cc"/>
<circle cx="340.63" cy="348.8" r="2.1" fill="#ff0000"/>
<circle cx="336.41" cy="355.75" r="2.1" fill="#0000cc"/>
<circle cx="418.06" cy="313.81" r="2.1" fill="#ff0000"/>
<circle cx="426.25" cy="316.29" r="2.1" fill="#ff0000"/>
<circle cx="418.06" cy="319.02" r="2.1" fill="#0000cc"/>
<circle cx="409.62" cy="323.74" r="2.1" fill="#ff0000"/>
<circle cx="401.43" cy="329.69" r="2.1" fill="#0000cc"/>
<circle cx="409.62" cy="329.45" r="2.1" fill="#ff0000"/>
<circle cx="434.69" cy="327.71" r="2.1" fill="#0000cc"/>
<circle cx="418.06" cy="331.68" r="2.1" fill="#0000cc"/>
<circle cx="426.25" cy="331.18" r="2.1" fill="#ff0000"/>
<circle cx="413.84" cy="339.37" r="2.1" fill="#0000cc"/>
<circle cx="422.03" cy="340.61" r="2.1" fill="#ff0000"/>
<circle cx="418.06" cy="354.51" r="2.1" fill="#0000cc"/>
</g>
<g id="c32">
<rect x="526.06" y="351.24" width="53.2" height="50.66" fill="#e6e6e6" stroke="#000" stroke-width="0.9"/>
<rect x="607.46" y="364.89" width="53.45" height="37.01" fill="#000000" stroke="#000" stroke-width="0.9"/>
<path d="M511.8 293.55V401.9H675.2" fill="none" stroke="#1a1a1a" stroke-width="0.6"/>
<path d="M509.6 401.9H511.8" stroke="#1a1a1a" stroke-width="0.6"/>
<text transform="translate(509.2 403.9) scale(0.95 1)" class="tk">0</text>
<path d="M509.6 380.23H511.8" stroke="#1a1a1a" stroke-width="0.6"/>
<text transform="translate(509.2 382.23) scale(0.95 1)" class="tk">500</text>
<path d="M509.6 358.56H511.8" stroke="#1a1a1a" stroke-width="0.6"/>
<text transform="translate(509.2 360.56) scale(0.95 1)" class="tk">1000</text>
<path d="M509.6 336.89H511.8" stroke="#1a1a1a" stroke-width="0.6"/>
<text transform="translate(509.2 338.89) scale(0.95 1)" class="tk">1500</text>
<path d="M509.6 315.22H511.8" stroke="#1a1a1a" stroke-width="0.6"/>
<text transform="translate(509.2 317.22) scale(0.95 1)" class="tk">2000</text>
<path d="M509.6 293.55H511.8" stroke="#1a1a1a" stroke-width="0.6"/>
<text transform="translate(509.2 295.55) scale(0.95 1)" class="tk">2500</text>
<path d="M552.66 401.9V404.1" stroke="#1a1a1a" stroke-width="0.6"/>
<text transform="translate(552.66 413.1) scale(0.985 1)" class="xl">Inactive</text>
<path d="M634.19 401.9V404.1" stroke="#1a1a1a" stroke-width="0.6"/>
<text transform="translate(634.19 413.1) scale(0.985 1)" class="xl">Active</text>
<text transform="translate(494.6 347.73) rotate(-90) scale(0.905 1)" class="yl">Travel Distance (cm)</text>
<path d="M538.77 346.57H566.56M552.66 346.57V354.51M538.77 354.51H566.56" stroke="#000" stroke-width="0.95" fill="none"/>
<path d="M620.42 360.72H647.96M634.07 360.72V364.44" stroke="#000" stroke-width="0.95" fill="none"/>
<path d="M551.92 326.22H634.56" stroke="#000" stroke-width="0.95"/>
<text x="593.61" y="323.62" class="st">*</text>
<circle cx="544.23" cy="337.14" r="2.1" fill="#ff0000"/>
<circle cx="552.66" cy="334.16" r="2.1" fill="#ff0000"/>
<circle cx="560.85" cy="333.42" r="2.1" fill="#ff0000"/>
<circle cx="548.45" cy="342.6" r="2.1" fill="#0000cc"/>
<circle cx="556.88" cy="342.35" r="2.1" fill="#ff0000"/>
<circle cx="544.23" cy="350.29" r="2.1" fill="#ff0000"/>
<circle cx="552.66" cy="349.05" r="2.1" fill="#ff0000"/>
<circle cx="560.85" cy="351.28" r="2.1" fill="#0000cc"/>
<circle cx="552.66" cy="353.52" r="2.1" fill="#0000cc"/>
<circle cx="548.45" cy="367.66" r="2.1" fill="#0000cc"/>
<circle cx="556.88" cy="369.4" r="2.1" fill="#0000cc"/>
<circle cx="552.66" cy="375.11" r="2.1" fill="#0000cc"/>
<circle cx="634.07" cy="346.32" r="2.1" fill="#ff0000"/>
<circle cx="642.5" cy="348.8" r="2.1" fill="#ff0000"/>
<circle cx="625.88" cy="352.03" r="2.1" fill="#0000cc"/>
<circle cx="634.07" cy="351.04" r="2.1" fill="#ff0000"/>
<circle cx="625.88" cy="367.17" r="2.1" fill="#ff0000"/>
<circle cx="634.07" cy="365.68" r="2.1" fill="#ff0000"/>
<circle cx="650.94" cy="370.64" r="2.1" fill="#ff0000"/>
<circle cx="617.44" cy="374.36" r="2.1" fill="#0000cc"/>
<circle cx="625.88" cy="372.13" r="2.1" fill="#0000cc"/>
<circle cx="634.07" cy="373.37" r="2.1" fill="#0000cc"/>
<circle cx="642.5" cy="373.12" r="2.1" fill="#0000cc"/>
<circle cx="650.94" cy="375.11" r="2.1" fill="#0000cc"/>
</g>
<g id="c41">
<rect x="309.81" y="505.38" width="53.2" height="35.87" fill="#e6e6e6" stroke="#000" stroke-width="0.9"/>
<rect x="391.46" y="492.97" width="53.45" height="48.28" fill="#000000" stroke="#000" stroke-width="0.9"/>
<path d="M295.5 432.3V541.25H458.9" fill="none" stroke="#1a1a1a" stroke-width="0.6"/>
<path d="M293.3 541.25H295.5" stroke="#1a1a1a" stroke-width="0.6"/>
<text transform="translate(292.9 543.25) scale(0.95 1)" class="tk">0</text>
<path d="M293.3 504.93H295.5" stroke="#1a1a1a" stroke-width="0.6"/>
<text transform="translate(292.9 506.93) scale(0.95 1)" class="tk">20</text>
<path d="M293.3 468.62H295.5" stroke="#1a1a1a" stroke-width="0.6"/>
<text transform="translate(292.9 470.62) scale(0.95 1)" class="tk">40</text>
<path d="M293.3 432.3H295.5" stroke="#1a1a1a" stroke-width="0.6"/>
<text transform="translate(292.9 434.3) scale(0.95 1)" class="tk">60</text>
<path d="M336.41 541.25V543.45" stroke="#1a1a1a" stroke-width="0.6"/>
<text transform="translate(336.41 552.45) scale(0.985 1)" class="xl">Inactive</text>
<path d="M418.18 541.25V543.45" stroke="#1a1a1a" stroke-width="0.6"/>
<text transform="translate(418.18 552.45) scale(0.985 1)" class="xl">Active</text>
<text transform="translate(279.2 486.77) rotate(-90) scale(0.905 1)" class="yl">Time in open arms (s)</text>
<path d="M323.01 500.21H350.31M336.41 500.21V508.65M323.01 508.65H350.31" stroke="#000" stroke-width="0.95" fill="none"/>
<path d="M404.16 486.07H431.96M418.06 486.07V492.52" stroke="#000" stroke-width="0.95" fill="none"/>
<circle cx="332.44" cy="483.34" r="2.1" fill="#ff0000"/>
<circle cx="340.63" cy="479.36" r="2.1" fill="#ff0000"/>
<circle cx="336.41" cy="489.29" r="2.1" fill="#ff0000"/>
<circle cx="336.41" cy="495.25" r="2.1" fill="#0000cc"/>
<circle cx="332.44" cy="503.44" r="2.1" fill="#ff0000"/>
<circle cx="340.63" cy="502.94" r="2.1" fill="#0000cc"/>
<circle cx="332.44" cy="511.88" r="2.1" fill="#0000cc"/>
<circle cx="340.63" cy="510.88" r="2.1" fill="#0000cc"/>
<circle cx="332.44" cy="515.85" r="2.1" fill="#ff0000"/>
<circle cx="340.63" cy="515.35" r="2.1" fill="#ff0000"/>
<circle cx="332.44" cy="523.54" r="2.1" fill="#0000cc"/>
<circle cx="340.63" cy="522.05" r="2.1" fill="#0000cc"/>
<circle cx="418.06" cy="452.81" r="2.1" fill="#ff0000"/>
<circle cx="409.62" cy="467.2" r="2.1" fill="#ff0000"/>
<circle cx="418.06" cy="469.19" r="2.1" fill="#ff0000"/>
<circle cx="418.06" cy="486.07" r="2.1" fill="#ff0000"/>
<circle cx="409.62" cy="493.51" r="2.1" fill="#0000cc"/>
<circle cx="426.25" cy="494.75" r="2.1" fill="#0000cc"/>
<circle cx="409.62" cy="499.72" r="2.1" fill="#0000cc"/>
<circle cx="418.06" cy="497.73" r="2.1" fill="#0000cc"/>
<circle cx="426.25" cy="500.71" r="2.1" fill="#ff0000"/>
<circle cx="418.06" cy="502.94" r="2.1" fill="#0000cc"/>
<circle cx="418.06" cy="513.12" r="2.1" fill="#ff0000"/>
<circle cx="418.06" cy="529.74" r="2.1" fill="#0000cc"/>
</g>
<g id="c42">
<rect x="526.06" y="485.03" width="53.2" height="55.37" fill="#e6e6e6" stroke="#000" stroke-width="0.9"/>
<rect x="607.46" y="504.38" width="53.45" height="36.02" fill="#000000" stroke="#000" stroke-width="0.9"/>
<path d="M511.8 431.6V540.4H675.2" fill="none" stroke="#1a1a1a" stroke-width="0.6"/>
<path d="M509.6 540.4H511.8" stroke="#1a1a1a" stroke-width="0.6"/>
<text transform="translate(509.2 542.4) scale(0.95 1)" class="tk">0</text>
<path d="M509.6 504.13H511.8" stroke="#1a1a1a" stroke-width="0.6"/>
<text transform="translate(509.2 506.13) scale(0.95 1)" class="tk">20</text>
<path d="M509.6 467.87H511.8" stroke="#1a1a1a" stroke-width="0.6"/>
<text transform="translate(509.2 469.87) scale(0.95 1)" class="tk">40</text>
<path d="M509.6 431.6H511.8" stroke="#1a1a1a" stroke-width="0.6"/>
<text transform="translate(509.2 433.6) scale(0.95 1)" class="tk">60</text>
<path d="M552.66 540.4V542.6" stroke="#1a1a1a" stroke-width="0.6"/>
<text transform="translate(552.66 551.6) scale(0.985 1)" class="xl">Inactive</text>
<path d="M634.19 540.4V542.6" stroke="#1a1a1a" stroke-width="0.6"/>
<text transform="translate(634.19 551.6) scale(0.985 1)" class="xl">Active</text>
<text transform="translate(494.6 486) rotate(-90) scale(0.905 1)" class="yl">Time in open arms (s)</text>
<path d="M538.77 476.88H566.56M552.66 476.88V491.53M538.77 491.53H566.56" stroke="#000" stroke-width="0.95" fill="none"/>
<path d="M620.42 496.49H647.96M634.07 496.49V503.93" stroke="#000" stroke-width="0.95" fill="none"/>
<circle cx="552.66" cy="448.09" r="2.1" fill="#ff0000"/>
<circle cx="548.45" cy="457.77" r="2.1" fill="#ff0000"/>
<circle cx="556.88" cy="460.5" r="2.1" fill="#ff0000"/>
<circle cx="552.66" cy="466.96" r="2.1" fill="#ff0000"/>
<circle cx="552.66" cy="473.66" r="2.1" fill="#ff0000"/>
<circle cx="548.45" cy="483.34" r="2.1" fill="#0000cc"/>
<circle cx="556.88" cy="487.06" r="2.1" fill="#ff0000"/>
<circle cx="548.45" cy="490.78" r="2.1" fill="#0000cc"/>
<circle cx="552.66" cy="495.99" r="2.1" fill="#0000cc"/>
<circle cx="552.66" cy="502.45" r="2.1" fill="#0000cc"/>
<circle cx="552.66" cy="510.64" r="2.1" fill="#0000cc"/>
<circle cx="552.66" cy="536.2" r="2.1" fill="#0000cc"/>
<circle cx="634.07" cy="470.43" r="2.1" fill="#ff0000"/>
<circle cx="638.28" cy="475.89" r="2.1" fill="#ff0000"/>
<circle cx="630.09" cy="478.37" r="2.1" fill="#ff0000"/>
<circle cx="630.09" cy="484.58" r="2.1" fill="#ff0000"/>
<circle cx="638.28" cy="486.31" r="2.1" fill="#0000cc"/>
<circle cx="634.07" cy="501.95" r="2.1" fill="#ff0000"/>
<circle cx="634.07" cy="511.63" r="2.1" fill="#0000cc"/>
<circle cx="630.09" cy="521.31" r="2.1" fill="#0000cc"/>
<circle cx="638.28" cy="522.05" r="2.1" fill="#0000cc"/>
<circle cx="634.07" cy="526.52" r="2.1" fill="#ff0000"/>
<circle cx="630.09" cy="532.72" r="2.1" fill="#0000cc"/>
<circle cx="638.28" cy="531.73" r="2.1" fill="#0000cc"/>
</g>
<g id="c51">
<rect x="309.81" y="618.76" width="53.2" height="53.44" fill="#e6e6e6" stroke="#000" stroke-width="0.9"/>
<rect x="391.46" y="620.74" width="53.45" height="51.46" fill="#000000" stroke="#000" stroke-width="0.9"/>
<path d="M295.9 563.7V672.2H459.3" fill="none" stroke="#1a1a1a" stroke-width="0.6"/>
<path d="M293.7 672.2H295.9" stroke="#1a1a1a" stroke-width="0.6"/>
<text transform="translate(293.3 674.2) scale(0.95 1)" class="tk">0</text>
<path d="M293.7 645.08H295.9" stroke="#1a1a1a" stroke-width="0.6"/>
<text transform="translate(293.3 647.08) scale(0.95 1)" class="tk">50</text>
<path d="M293.7 617.95H295.9" stroke="#1a1a1a" stroke-width="0.6"/>
<text transform="translate(293.3 619.95) scale(0.95 1)" class="tk">100</text>
<path d="M293.7 590.83H295.9" stroke="#1a1a1a" stroke-width="0.6"/>
<text transform="translate(293.3 592.83) scale(0.95 1)" class="tk">150</text>
<path d="M293.7 563.7H295.9" stroke="#1a1a1a" stroke-width="0.6"/>
<text transform="translate(293.3 565.7) scale(0.95 1)" class="tk">200</text>
<path d="M336.41 672.2V674.4" stroke="#1a1a1a" stroke-width="0.6"/>
<text transform="translate(336.41 683.4) scale(0.985 1)" class="xl">Inactive</text>
<path d="M418.18 672.2V674.4" stroke="#1a1a1a" stroke-width="0.6"/>
<text transform="translate(418.18 683.4) scale(0.985 1)" class="xl">Active</text>
<text transform="translate(279.2 617.95) rotate(-90) scale(0.905 1)" class="yl">Time in light box (s)</text>
<path d="M325.49 613.09H348.82M336.66 613.09V623.27M325.49 623.27H348.82" stroke="#000" stroke-width="0.95" fill="none"/>
<path d="M404.16 616.57H431.96M418.31 616.57V620.29" stroke="#000" stroke-width="0.95" fill="none"/>
<circle cx="336.66" cy="584.55" r="2.1" fill="#ff0000"/>
<circle cx="336.66" cy="605.4" r="2.1" fill="#0000cc"/>
<circle cx="324.25" cy="612.35" r="2.1" fill="#0000cc"/>
<circle cx="332.69" cy="612.1" r="2.1" fill="#0000cc"/>
<circle cx="340.88" cy="613.84" r="2.1" fill="#0000cc"/>
<circle cx="349.07" cy="611.61" r="2.1" fill="#ff0000"/>
<circle cx="340.88" cy="620.29" r="2.1" fill="#ff0000"/>
<circle cx="324.25" cy="623.02" r="2.1" fill="#ff0000"/>
<circle cx="349.07" cy="621.78" r="2.1" fill="#0000cc"/>
<circle cx="340.88" cy="624.76" r="2.1" fill="#0000cc"/>
<circle cx="336.66" cy="628.98" r="2.1" fill="#ff0000"/>
<circle cx="336.66" cy="658.76" r="2.1" fill="#ff0000"/>
<circle cx="409.87" cy="604.91" r="2.1" fill="#ff0000"/>
<circle cx="418.31" cy="607.14" r="2.1" fill="#ff0000"/>
<circle cx="426.74" cy="606.64" r="2.1" fill="#0000cc"/>
<circle cx="414.09" cy="611.61" r="2.1" fill="#0000cc"/>
<circle cx="422.53" cy="611.36" r="2.1" fill="#0000cc"/>
<circle cx="418.31" cy="619.55" r="2.1" fill="#0000cc"/>
<circle cx="409.87" cy="622.53" r="2.1" fill="#ff0000"/>
<circle cx="418.31" cy="624.76" r="2.1" fill="#ff0000"/>
<circle cx="409.87" cy="629.47" r="2.1" fill="#ff0000"/>
<circle cx="418.31" cy="632.2" r="2.1" fill="#0000cc"/>
<circle cx="426.74" cy="631.71" r="2.1" fill="#ff0000"/>
<circle cx="418.31" cy="638.41" r="2.1" fill="#0000cc"/>
</g>
<g id="c52">
<rect x="523.3" y="647.3" width="53.2" height="24.9" fill="#e6e6e6" stroke="#000" stroke-width="0.9"/>
<rect x="604.71" y="657.47" width="53.45" height="14.73" fill="#000000" stroke="#000" stroke-width="0.9"/>
<path d="M509.2 564V672.2H672.6" fill="none" stroke="#1a1a1a" stroke-width="0.6"/>
<path d="M507 672.2H509.2" stroke="#1a1a1a" stroke-width="0.6"/>
<text transform="translate(506.6 674.2) scale(0.95 1)" class="tk">0</text>
<path d="M507 645.15H509.2" stroke="#1a1a1a" stroke-width="0.6"/>
<text transform="translate(506.6 647.15) scale(0.95 1)" class="tk">50</text>
<path d="M507 618.1H509.2" stroke="#1a1a1a" stroke-width="0.6"/>
<text transform="translate(506.6 620.1) scale(0.95 1)" class="tk">100</text>
<path d="M507 591.05H509.2" stroke="#1a1a1a" stroke-width="0.6"/>
<text transform="translate(506.6 593.05) scale(0.95 1)" class="tk">150</text>
<path d="M507 564H509.2" stroke="#1a1a1a" stroke-width="0.6"/>
<text transform="translate(506.6 566) scale(0.95 1)" class="tk">200</text>
<path d="M549.91 672.2V674.4" stroke="#1a1a1a" stroke-width="0.6"/>
<text transform="translate(549.91 683.4) scale(0.985 1)" class="xl">Inactive</text>
<path d="M631.43 672.2V674.4" stroke="#1a1a1a" stroke-width="0.6"/>
<text transform="translate(631.43 683.4) scale(0.985 1)" class="xl">Active</text>
<text transform="translate(494.6 618.1) rotate(-90) scale(0.905 1)" class="yl">Time in light box (s)</text>
<path d="M536.01 642.63H563.8M549.91 642.63V650.07M536.01 650.07H563.8" stroke="#000" stroke-width="0.95" fill="none"/>
<path d="M617.66 653.55H645.2M631.55 653.55V657.02" stroke="#000" stroke-width="0.95" fill="none"/>
<path d="M550.65 611.11H631.06" stroke="#000" stroke-width="0.95"/>
<text x="592.59" y="608.51" class="st">*</text>
<circle cx="549.91" cy="622.28" r="2.1" fill="#0000cc"/>
<circle cx="545.69" cy="635.93" r="2.1" fill="#ff0000"/>
<circle cx="537.25" cy="640.15" r="2.1" fill="#ff0000"/>
<circle cx="545.69" cy="640.89" r="2.1" fill="#0000cc"/>
<circle cx="553.88" cy="639.65" r="2.1" fill="#0000cc"/>
<circle cx="562.31" cy="638.66" r="2.1" fill="#0000cc"/>
<circle cx="549.91" cy="647.34" r="2.1" fill="#ff0000"/>
<circle cx="545.69" cy="654.29" r="2.1" fill="#ff0000"/>
<circle cx="553.88" cy="653.8" r="2.1" fill="#0000cc"/>
<circle cx="545.69" cy="659.26" r="2.1" fill="#ff0000"/>
<circle cx="553.88" cy="660.25" r="2.1" fill="#ff0000"/>
<circle cx="545.69" cy="663.72" r="2.1" fill="#0000cc"/>
<circle cx="631.55" cy="636.42" r="2.1" fill="#ff0000"/>
<circle cx="623.12" cy="648.83" r="2.1" fill="#ff0000"/>
<circle cx="631.55" cy="649.33" r="2.1" fill="#ff0000"/>
<circle cx="639.74" cy="649.58" r="2.1" fill="#ff0000"/>
<circle cx="623.12" cy="653.8" r="2.1" fill="#0000cc"/>
<circle cx="631.55" cy="653.55" r="2.1" fill="#0000cc"/>
<circle cx="623.12" cy="659.75" r="2.1" fill="#0000cc"/>
<circle cx="631.55" cy="659.01" r="2.1" fill="#0000cc"/>
<circle cx="639.74" cy="662.23" r="2.1" fill="#0000cc"/>
<circle cx="631.55" cy="666.2" r="2.1" fill="#ff0000"/>
<circle cx="639.74" cy="670.18" r="2.1" fill="#ff0000"/>
<circle cx="623.12" cy="671.42" r="2.1" fill="#0000cc"/>
</g>
</svg>
</body>
</html>
